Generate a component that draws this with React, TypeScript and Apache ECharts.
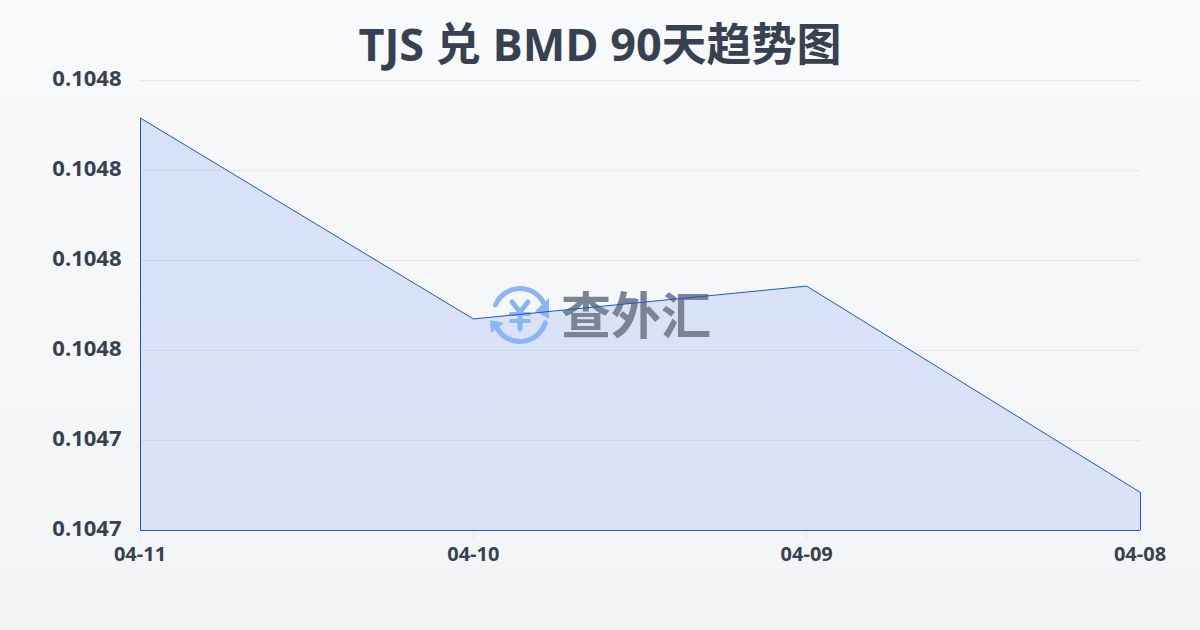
import React, { useEffect, useRef } from "react";
import * as echarts from "echarts";

const titleText = "TJS 兑 BMD 90天趋势图";
const categories = ["04-11", "04-10", "04-09", "04-08"];
const rates = [0.1048116, 0.1047669, 0.1047742, 0.1047284];
const axisMin = 0.10472;
const axisMax = 0.10482;
const axisStep = 0.00002;
const watermarkText = "查外汇";

const FONT = "'Open Sans', 'Noto Sans CJK SC', sans-serif";
const BLUE = "#8db6f4";
const INK = "#374151";
const LINE = "#2057c9";

export default function App() {
  const ref = useRef<HTMLDivElement>(null);
  useEffect(() => {
    document.body.style.margin = "0";
    const chart = echarts.init(ref.current!, null, { renderer: "svg" });
    const last = categories.length - 1;
    const logoStroke = (lineWidth: number) => ({ stroke: BLUE, lineWidth, lineCap: "round" });
    chart.setOption({
      animation: false,
      backgroundColor: {
        type: "linear", x: 0, y: 0, x2: 0, y2: 1,
        colorStops: [{ offset: 0, color: "#f9fafb" }, { offset: 1, color: "#f3f4f6" }],
      },
      title: {
        text: titleText, left: "center", top: 16,
        textStyle: { fontFamily: FONT, fontSize: 45, fontWeight: "bold", color: INK },
      },
      grid: { left: 140, right: 60, top: 80, bottom: 100 },
      xAxis: {
        type: "category", data: categories, boundaryGap: false,
        axisLine: { show: false },
        axisTick: { show: true, length: 10, lineStyle: { color: "#e5e7eb" } },
        axisLabel: { color: INK, fontFamily: FONT, fontSize: 20, fontWeight: "bold", margin: 13 },
        splitLine: { show: false },
      },
      yAxis: {
        type: "value", min: axisMin, max: axisMax, interval: axisStep,
        axisLine: { show: false }, axisTick: { show: false },
        axisLabel: {
          color: INK, fontFamily: FONT, fontSize: 22, fontWeight: "bold", margin: 18.5,
          verticalAlign: "bottom", lineHeight: 6,
          formatter: (v: number) => v.toFixed(4),
        },
        splitLine: { lineStyle: { color: "#e5e7eb", width: 1 } },
      },
      graphic: [
        { type: "arc", z: 2, shape: { cx: 520, cy: 315, r: 26.5, startAngle: -2.75, endAngle: -0.42 }, style: { ...logoStroke(5), fill: "none" } },
        { type: "arc", z: 2, shape: { cx: 520, cy: 315, r: 26.5, startAngle: 0.3, endAngle: 2.65 }, style: { ...logoStroke(5), fill: "none" } },
        { type: "polygon", z: 2, shape: { points: [[549, 298], [549, 319], [535, 311]] }, style: { fill: BLUE } },
        { type: "polygon", z: 2, shape: { points: [[490, 320], [504, 323], [491, 333]] }, style: { fill: BLUE } },
        { type: "line", z: 2, shape: { x1: 512, y1: 302, x2: 520, y2: 312 }, style: logoStroke(5) },
        { type: "line", z: 2, shape: { x1: 528, y1: 302, x2: 520, y2: 312 }, style: logoStroke(5) },
        { type: "line", z: 2, shape: { x1: 511, y1: 314, x2: 529, y2: 314 }, style: logoStroke(4) },
        { type: "line", z: 2, shape: { x1: 511, y1: 321, x2: 529, y2: 321 }, style: logoStroke(4) },
        { type: "line", z: 2, shape: { x1: 520, y1: 312, x2: 520, y2: 329 }, style: logoStroke(5) },
        {
          type: "text", z: 2, x: 636, y: 312,
          style: {
            text: watermarkText, fill: "#7b8494", fontFamily: "'Noto Sans CJK SC', sans-serif",
            fontSize: 50, fontWeight: "bold", align: "center", verticalAlign: "middle",
          },
        },
      ],
      series: [
        {
          type: "line", data: rates, symbol: "none", silent: true, z: 1,
          lineStyle: { width: 0 },
          areaStyle: {
            opacity: 1,
            color: {
              type: "linear", x: 0, y: 0, x2: 0, y2: 1,
              colorStops: [
                { offset: 0, color: "rgba(37,99,235,0.155)" },
                { offset: 1, color: "rgba(37,99,235,0.125)" },
              ],
            },
          },
        },
        {
          type: "line", data: rates, symbol: "none", silent: true, z: 3,
          lineStyle: { color: LINE, width: 1 },
          markLine: {
            silent: true, symbol: "none", label: { show: false }, animation: false,
            lineStyle: { color: LINE, width: 1, type: "solid" },
            data: [
              [{ coord: [categories[0], rates[0]] }, { coord: [categories[0], axisMin] }],
              [{ coord: [categories[0], axisMin] }, { coord: [categories[last], axisMin] }],
              [{ coord: [categories[last], axisMin] }, { coord: [categories[last], rates[last]] }],
            ],
          },
        },
      ],
    });
    return () => chart.dispose();
  }, []);
  return <div ref={ref} style={{ width: 1200, height: 630 }} />;
}
